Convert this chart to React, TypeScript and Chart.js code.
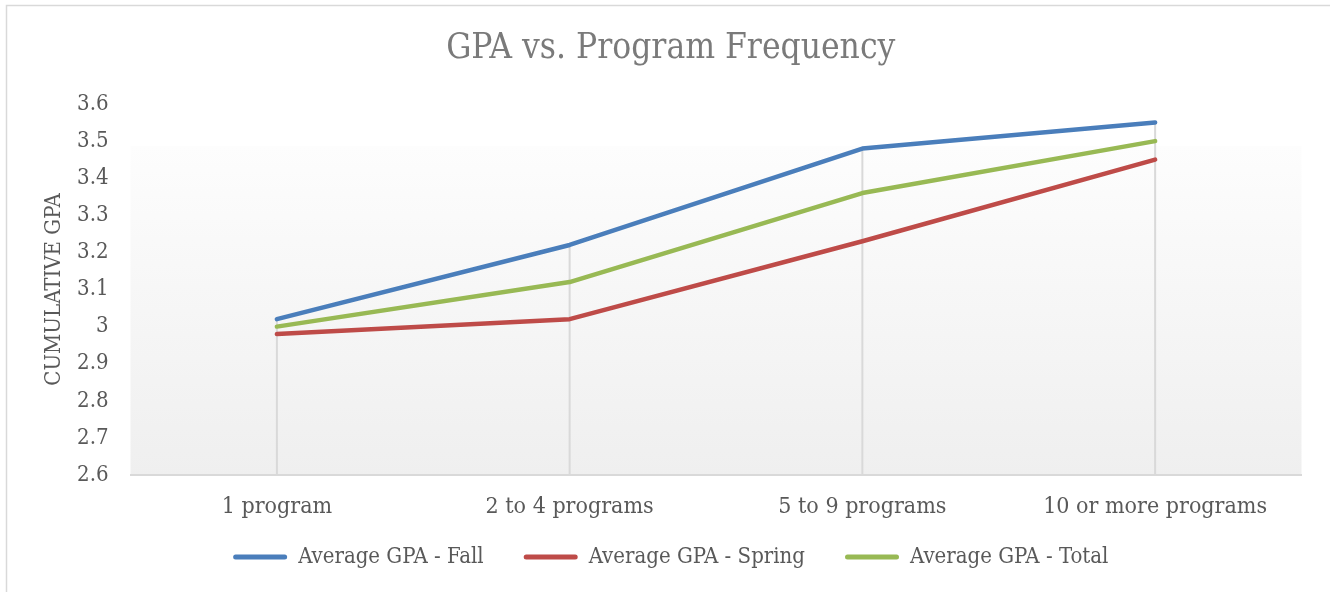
import React, { useEffect, useRef } from "react";
import { Chart, registerables } from "chart.js";

Chart.register(...registerables);

const categories = ["1 program", "2 to 4 programs", "5 to 9 programs", "10 or more programs"];
const fallGPA = [3.02, 3.22, 3.48, 3.55];
const springGPA = [2.98, 3.02, 3.23, 3.45];
const totalGPA = [3.0, 3.12, 3.36, 3.5];
const seriesNames = ["Average GPA - Fall", "Average GPA - Spring", "Average GPA - Total"];
const seriesColors = ["#4A7EBB", "#BE4B48", "#98B954"];
const yMin = 2.6;
const yMax = 3.6;
const yStep = 0.1;

const FONT = '"DejaVu Serif Condensed", "DejaVu Serif", serif';
const TEXT = "#595959";

const framePlugin = {
  id: "frame",
  beforeDraw(chart: any) {
    const { ctx, chartArea } = chart;
    ctx.save();
    ctx.fillStyle = "#ffffff";
    ctx.fillRect(0, 0, chart.width, chart.height);
    ctx.strokeStyle = "#d9d9d9";
    ctx.lineWidth = 1.5;
    ctx.strokeRect(6.5, 5.5, chart.width + 20, chart.height + 20);
    const top = chartArea.top + (chartArea.bottom - chartArea.top) * 0.113;
    const g = ctx.createLinearGradient(0, top, 0, chartArea.bottom);
    g.addColorStop(0, "#fdfdfd");
    g.addColorStop(1, "#efefef");
    ctx.fillStyle = g;
    ctx.fillRect(chartArea.left, top, chartArea.right - chartArea.left, chartArea.bottom - top);
    ctx.restore();
  },
};

const dropLinePlugin = {
  id: "dropLines",
  beforeDatasetsDraw(chart: any) {
    const { ctx, chartArea, scales } = chart;
    const ds = chart.data.datasets;
    ctx.save();
    ctx.strokeStyle = "#d9d9d9";
    ctx.lineWidth = 2;
    for (let i = 0; i < categories.length; i++) {
      const maxV = Math.max(...ds.map((d: any) => d.data[i]));
      const x = scales.x.getPixelForValue(i);
      const y = scales.y.getPixelForValue(maxV);
      ctx.beginPath();
      ctx.moveTo(x, y);
      ctx.lineTo(x, chartArea.bottom);
      ctx.stroke();
    }
    ctx.restore();
  },
};

export default function App() {
  const ref = useRef<HTMLCanvasElement>(null);
  useEffect(() => {
    document.body.style.margin = "0";
    const seriesData = [fallGPA, springGPA, totalGPA];
    const chart = new Chart(ref.current!, {
      type: "line",
      data: {
        labels: categories,
        datasets: seriesData.map((d, i) => ({
          label: seriesNames[i],
          data: d,
          borderColor: seriesColors[i],
          backgroundColor: seriesColors[i],
          borderWidth: 4.5,
          pointRadius: 0,
          borderCapStyle: "round" as const,
          borderJoinStyle: "round" as const,
          tension: 0,
        })),
      },
      options: {
        responsive: false,
        animation: false,
        layout: { padding: { left: 40, right: 28.5, top: 0, bottom: 14 } },
        plugins: {
          title: {
            display: true,
            text: "GPA vs. Program Frequency",
            color: "#7a7a7a",
            font: { family: FONT, size: 35, weight: "normal" },
            padding: { top: 28, bottom: 34 },
          },
          legend: {
            position: "bottom",
            labels: {
              color: TEXT,
              font: { family: FONT, size: 22 },
              boxWidth: 54,
              boxHeight: 5,
              padding: 40,
              useBorderRadius: true,
              borderRadius: 2.5,
              generateLabels: (c: any) =>
                c.data.datasets.map((d: any, i: number) => ({
                  text: d.label,
                  fillStyle: d.borderColor,
                  strokeStyle: d.borderColor,
                  lineWidth: 0,
                  hidden: false,
                  datasetIndex: i,
                  borderRadius: 2.5,
                  fontColor: TEXT,
                })),
            },
          },
          tooltip: { enabled: false },
        },
        scales: {
          x: {
            offset: true,
            grid: { display: false, drawTicks: false },
            border: { display: true, color: "#d9d9d9", width: 2 },
            ticks: { color: TEXT, font: { family: FONT, size: 23 }, padding: 18 },
            afterFit: (s: any) => {
              s.height = 31;
              s._computeLabelArea = () => undefined;
            },
          },
          y: {
            min: yMin,
            max: yMax,
            grid: { display: false, drawTicks: false },
            border: { display: false },
            ticks: {
              stepSize: yStep,
              color: TEXT,
              font: { family: FONT, size: 22 },
              padding: 22,
              callback: (v: any) => String(Math.round(Number(v) * 10) / 10),
            },
            title: {
              display: true,
              text: "CUMULATIVE GPA",
              color: TEXT,
              font: { family: FONT, size: 22 },
              padding: { top: 1, bottom: 0 },
            },
            afterFit: (s: any) => {
              s.width = 90.5;
            },
          },
        },
      },
      plugins: [framePlugin, dropLinePlugin],
    });
    return () => chart.destroy();
  }, []);
  return (
    <div style={{ width: 1330, height: 592 }}>
      <canvas ref={ref} width={1330} height={592} style={{ display: "block" }} />
    </div>
  );
}
